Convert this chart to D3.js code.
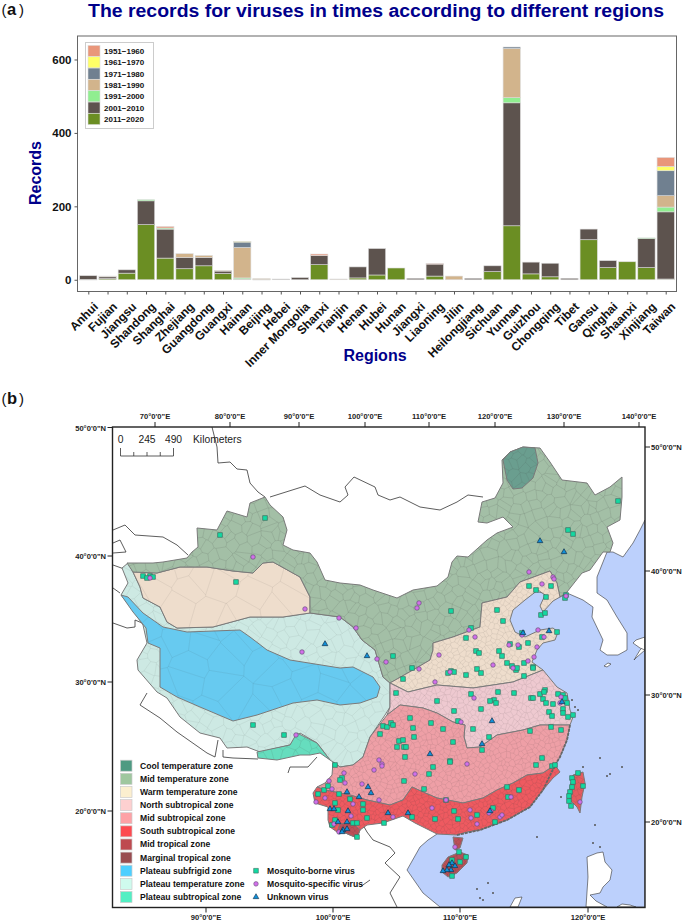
<!DOCTYPE html>
<html><head><meta charset="utf-8">
<script src="https://cdn.jsdelivr.net/npm/d3@7"></script>
<style>html,body{margin:0;background:#fff}svg{display:block}text{font-family:"Liberation Sans",Arial,sans-serif}</style>
</head><body><svg id="c" width="685" height="922"></svg>
<script>
// ---------- panel (a) data ----------
const regions=["Anhui","Fujian","Jiangsu","Shandong","Shanghai","Zhejiang","Guangdong","Guangxi","Hainan","Beijing","Hebei","Inner Mongolia","Shanxi","Tianjin","Henan","Hubei","Hunan","Jiangxi","Liaoning","Jilin","Heilongjiang","Sichuan","Yunnan","Guizhou","Chongqing","Tibet","Gansu","Qinghai","Shaanxi","Xinjiang","Taiwan"];
const periods=["2011–2020","2001–2010","1991–2000","1981–1990","1971–1980","1961–1970","1951–1960"];
const periodColors=["#6B8E23","#5D534E","#90EE90","#D2B48C","#708090","#FFFF66","#E9967A"];
const v2011=[1,3,18,150,59,30,38,17,2,1,0,0,41,0,5,13,32,0,10,0,0,22,147,16,8,0,109,33,49,33,2];
const v2001=[10,5,9,65,79,31,23,7,0,0,2,6,25,0,30,72,0,4,33,0,4,16,335,32,37,4,29,19,0,80,183];
const v1991=[0,0,0,3,3,0,0,0,3,0,0,0,0,0,0,0,0,0,0,0,0,0,14,0,0,0,0,0,0,1,13];
const v1981=[0,2,0,0,0,10,5,1,83,2,0,0,0,2,0,0,0,0,0,10,0,0,134,0,0,0,0,0,0,0,31];
const v1971=[0,0,0,0,0,0,0,0,15,0,0,0,0,0,0,0,0,0,0,0,0,0,4,0,0,0,0,0,0,0,68];
const v1961=[0,0,0,0,0,0,0,0,1,0,0,0,0,0,0,0,0,0,0,0,0,0,0,0,0,0,0,0,0,0,12];
const v1951=[0,0,0,0,4,0,0,0,0,0,0,0,4,0,0,0,0,0,1,0,0,0,0,0,0,0,0,0,0,0,24];
const seriesValues=[v2011,v2001,v1991,v1981,v1971,v1961,v1951];
const yTicks=[0,200,400,600];

// ---------- panel (b) data: outlines and sites, in map-grid units ----------
const lonTopTicks=[70,80,90,100,110,120,130,140], lonTopAt=[155,230,299,365,429,495,564,639];
const lonBottomTicks=[90,100,110,120], lonBottomAt=[206,333,460,588];
const latLeftTicks=[50,40,30,20], latLeftAt=[427.5,556,682,811];
const latRightTicks=[50,40,30,20], latRightAt=[447,571,695,822];
const zoneNames=["Cool temperature zone","Mid temperature zone","Warm temperature zone","North subtropical zone","Mid subtropical zone","South subtropical zone","Mid tropical zone","Marginal tropical zone","Plateau subfrigid zone","Plateau temperature zone","Plateau subtropical zone"];
const zoneLegendColors=["#4E9A82","#9FC79F","#FCEFCF","#FDD0D0","#FDA2A6","#FD4A50","#BE4A50","#994C50","#4DCFFF","#CFFBEE","#52EFC3"];
const virusNames=["Mosquito-borne virus","Mosquito-specific virus","Unknown virus"];

const seaArea=[[560,597],[567,593],[583,600],[593,607],[592,617],[603,640],[600,650],[607,655],[618,655],[627,650],[627,633],[617,617],[607,600],[597,593],[597,577],[607,552],[613,552],[623,557],[633,543],[640,530],[645,520],[645,907],[440,907],[423,893],[407,870],[420,847],[428,840],[437,834],[470,780],[500,700],[495,640],[495,610],[530,590]];
const luzon=[[587,857],[597,853],[603,852],[605,862],[612,870],[610,880],[603,887],[600,893],[590,895],[596,901],[607,907],[586,907],[588,877]];
const luzonSouth=[[617,907],[622,904],[630,905],[636,907]];
const palawan=[[510,907],[515,898],[522,897],[518,907]];
const kyushu=[[645,650],[637,657],[634,660],[640,650],[645,645]];
const jeju=[[604,666],[608,663],[611,664],[607,667]];
const honshuBit=[[633,643],[636,640],[645,637],[645,650],[640,648]];

const midTemp=[[127,563],[153,563],[163,562],[187,558],[192,552],[198,547],[197,528],[217,530],[227,511],[247,517],[250,503],[265,497],[270,505],[283,517],[287,530],[283,545],[293,550],[310,553],[317,562],[325,580],[340,583],[360,585],[373,590],[397,598],[413,590],[437,586],[448,577],[452,562],[457,556],[468,557],[487,540],[497,533],[513,527],[503,517],[487,523],[478,522],[482,502],[495,498],[503,483],[502,460],[510,452],[523,447],[540,448],[550,462],[562,480],[587,483],[595,495],[610,487],[622,477],[622,497],[620,520],[607,527],[613,543],[610,552],[603,552],[590,570],[582,573],[567,592],[560,597],[557,583],[550,571],[520,582],[507,597],[482,603],[480,627],[453,637],[433,643],[433,650],[430,660],[413,670],[390,683],[383,677],[375,650],[362,640],[353,627],[340,617],[310,613],[310,597],[300,577],[273,562],[263,563],[253,573],[233,571],[207,567],[180,567],[157,573],[133,572]];
const coolTemp=[[503,460],[510,452],[523,447],[535,448],[538,463],[533,478],[522,488],[513,489],[507,480],[505,470]];
const warmWest=[[133,572],[157,573],[180,567],[207,567],[233,571],[253,573],[263,563],[273,562],[300,577],[310,597],[310,613],[283,617],[250,617],[213,627],[177,628],[167,622],[160,607],[143,598],[140,587]];
const warmEast=[[433,643],[453,637],[480,627],[482,603],[507,597],[520,582],[550,571],[557,583],[560,597],[553,601],[543,612],[540,606],[545,595],[538,590],[525,600],[513,610],[510,620],[515,632],[525,637],[540,630],[553,628],[558,632],[555,640],[543,643],[537,650],[532,662],[543,670],[513,682],[473,688],[437,685],[408,692],[390,683],[413,670],[430,660],[433,650]];
const plateauTemp=[[122,568],[128,563],[133,572],[140,587],[143,598],[160,607],[167,622],[177,628],[213,627],[250,617],[283,617],[310,613],[340,617],[353,627],[362,640],[375,650],[383,677],[390,683],[390,707],[385,715],[370,737],[363,757],[353,765],[340,767],[333,762],[330,760],[317,743],[300,733],[290,745],[260,752],[247,747],[227,748],[220,738],[200,733],[180,717],[167,698],[157,692],[138,670],[137,660],[147,643],[143,625],[133,610],[121,595],[128,583]];
const plateauSub=[[121,595],[128,597],[143,613],[163,627],[187,632],[240,630],[250,637],[267,650],[290,660],[340,668],[353,667],[373,677],[380,687],[377,697],[360,703],[340,705],[317,700],[293,703],[257,715],[233,721],[200,707],[177,697],[160,687],[160,648],[148,643],[146,628],[133,612]];
const plateauSubtrop=[[257,752],[290,745],[297,733],[317,743],[330,760],[320,753],[310,755],[300,755],[277,760],[258,758]];
const northSub=[[390,683],[408,692],[437,685],[473,688],[513,682],[543,670],[557,687],[567,693],[570,710],[573,717],[570,725],[540,725],[523,730],[497,735],[480,747],[467,748],[464,737],[465,725],[453,722],[437,713],[423,708],[400,705],[387,715],[390,707]];
const midSub=[[387,715],[400,705],[423,708],[437,713],[453,722],[465,725],[464,737],[467,748],[480,747],[497,735],[523,730],[540,725],[570,725],[567,740],[560,757],[555,765],[543,773],[527,775],[513,783],[497,790],[483,798],[463,803],[437,798],[423,792],[412,787],[403,800],[390,805],[367,800],[350,795],[340,793],[325,790],[317,787],[325,783],[332,775],[333,762],[340,767],[353,765],[363,757],[370,737]];
const southSub=[[317,787],[313,793],[315,803],[328,807],[328,820],[330,827],[337,832],[343,832],[357,838],[360,830],[367,825],[383,823],[403,816],[415,823],[437,834],[457,835],[467,832],[480,830],[507,820],[530,807],[543,790],[553,778],[560,772],[555,765],[543,773],[527,775],[513,783],[497,790],[483,798],[463,803],[437,798],[423,792],[412,787],[403,800],[390,805],[367,800],[350,795],[340,793],[325,790]];
const yunnanTropic=[[337,832],[343,832],[357,838],[360,830],[352,822],[340,824]];
const leizhou=[[453,837],[463,838],[460,848],[455,850]];
const hainan=[[442,865],[448,857],[460,852],[468,855],[467,863],[457,873],[448,877],[442,872]];
const taiwan=[[573,775],[583,772],[585,783],[582,797],[580,813],[577,807],[570,800],[570,787]];

const borderLines=[
 [[212,427],[217,447],[218,463],[230,462],[237,469],[247,470],[250,483],[258,492],[265,497]],
 [[270,497],[305,486],[320,495],[340,502],[348,495],[345,487],[354,477],[375,487],[378,495],[390,500],[400,497],[420,507],[440,510],[457,502],[468,495],[483,497]],
 [[113,530],[125,525],[135,535],[163,537],[177,545],[188,555]],
 [[113,543],[120,540],[126,552],[113,553]],[[113,565],[127,570]],[[113,588],[120,593]],
 [[113,623],[127,628],[135,627],[135,620],[147,625]],
 [[147,693],[140,705],[160,718],[177,732],[207,753],[215,757],[218,740]],
 [[223,750],[223,757],[233,758],[258,759]],
 [[317,757],[308,767],[290,767],[288,773]],
 [[363,825],[367,832],[373,840],[390,847],[395,853],[385,863],[400,877],[390,893],[397,907]],
 [[370,880],[360,887]]
];
const coastDark=[[570,725],[567,740],[560,757],[555,765],[543,790],[530,807],[507,820],[480,830],[457,835]];
const islands=[[561,797],[537,837],[622,767],[607,776],[610,774],[600,758],[595,825],[593,843],[600,847],[477,889],[480,898],[483,900],[493,893],[488,883],[575,707],[578,710],[572,700],[583,767]];

const moBorne=[[265,518],[220,535],[143,576],[150,576],[147,578],[153,577],[236,582],[618,501],[568,530],[573,534],[451,611],[529,586],[536,590],[551,586],[546,597],[566,595],[565,598],[497,610],[503,621],[541,615],[545,613],[471,628],[466,638],[522,633],[557,632],[542,637],[510,644],[528,643],[519,647],
[393,656],[412,668],[403,679],[396,693],[437,701],[476,651],[479,653],[499,651],[502,656],[507,663],[512,666],[516,670],[517,668],[524,663],[533,667],[533,668],[524,676],[448,673],[451,671],[454,672],[466,675],[477,669],[481,673],
[471,694],[498,692],[514,693],[494,700],[496,703],[490,701],[531,698],[533,698],[540,694],[545,690],[544,692],[543,699],[546,703],[553,704],[558,694],[563,695],[565,698],[567,703],[563,709],[549,712],[552,716],[563,713],[568,717],[573,715],[481,709],[454,711],
[410,718],[431,723],[413,728],[443,729],[458,721],[473,729],[489,737],[482,750],[530,731],[551,727],[561,730],[383,726],[387,727],[391,723],[393,725],[380,734],[399,741],[403,740],[397,747],[404,747],[406,747],[414,737],[453,742],[405,757],[433,767],[429,774],[450,761],[450,762],[404,781],[542,758],[536,765],[552,766],[555,765],[507,787],[519,790],[424,789],[508,797],
[342,778],[350,799],[363,804],[363,810],[367,818],[353,823],[357,823],[384,823],[412,817],[435,819],[454,811],[458,819],[477,815],[495,822],[493,808],[446,800],[357,837],
[459,852],[466,857],[460,862],[452,860],[452,876],[578,773],[583,786],[572,778],[572,787],[570,792],[569,796],[569,801],[571,806],[573,782],
[253,725],[284,735],[335,765],[324,790],[328,786],[318,794],[339,794],[335,803],[338,810],[335,820],[332,825],[340,780]];
const moSpecific=[[253,557],[150,578],[305,609],[339,618],[529,572],[542,584],[553,577],[554,579],[566,596],[419,603],[417,608],[356,628],[469,630],[475,637],[538,630],[544,637],[509,645],[518,645],[537,647],[522,635],
[377,659],[386,662],[419,669],[439,655],[435,682],[450,672],[493,665],[513,668],[528,661],[534,657],[474,698],[561,697],[560,703],
[461,722],[379,760],[382,764],[382,766],[374,770],[467,764],[415,774],[344,773],[345,783],[362,784],[379,800],[446,800],[511,797],
[353,804],[351,816],[393,817],[432,808],[470,810],[471,818],[477,824],[491,811],[489,813],[500,817],[502,815],[455,847],[580,802],
[302,652],[296,735],[329,781],[332,789],[325,798],[316,802],[334,824],[339,832]];
const unknownVirus=[[325,644],[540,541],[564,552],[523,633],[549,631],[367,656],[562,702],[492,721],[482,744],[430,754],[368,787],[371,793],[347,792],[359,797],[348,811],[347,822],[388,813],[408,813],[343,830],[347,829],[342,832],[490,811],[452,863],[449,865],[455,866],[451,870],[447,870],[443,871],[330,809],[334,809],[338,822]];

// ---------- drawing ----------
const svg=d3.select("#c");
const navy="#00008B";
// panel letters
function panelLabel(txt,y){
  svg.append("text").attr("x",1.5).attr("y",y).attr("font-size",15).attr("fill","#111").text("(");
  svg.append("text").attr("x",7).attr("y",y).attr("font-size",16.5).attr("font-weight","bold").attr("fill","#111").text(txt);
  svg.append("text").attr("x",19).attr("y",y).attr("font-size",15).attr("fill","#111").text(")");
}
panelLabel("a",15); panelLabel("b",404);
svg.append("text").attr("x",88).attr("y",16.5).attr("font-size",18).attr("font-weight","bold").attr("fill",navy).attr("textLength",576).attr("lengthAdjust","spacingAndGlyphs").text("The records for viruses in times according to different regions");

// Panel a
const fa={l:77.5,t:36,r:676.5,b:291.5};
const x=d3.scalePoint().domain(regions).range([88.3,665.7]);
const y=d3.scaleLinear().domain([-32,664]).range([fa.b,fa.t]);
const stacked=d3.stack().keys(d3.range(periods.length)).value((d,k)=>seriesValues[k][d])(d3.range(regions.length));
const bw=17.3;
stacked.forEach((layer,k)=>{
  svg.append("g").selectAll("rect").data(layer).join("rect")
    .filter(d=>d[1]>d[0])
    .attr("x",d=>x(regions[d.data])-bw/2).attr("width",bw)
    .attr("y",d=>y(d[1])).attr("height",d=>Math.max(0.6,y(d[0])-y(d[1])))
    .attr("fill",periodColors[k]).attr("stroke","#ddd").attr("stroke-width",0.6);
});
svg.append("rect").attr("x",fa.l).attr("y",fa.t).attr("width",fa.r-fa.l).attr("height",fa.b-fa.t).attr("fill","none").attr("stroke","#666").attr("stroke-width",1);
const axL=svg.append("g").attr("transform",`translate(${fa.l},0)`).call(d3.axisLeft(y).tickValues(yTicks).tickSize(3).tickPadding(3));
axL.select(".domain").remove();
axL.selectAll("line").attr("stroke","#555");
axL.selectAll("text").attr("font-size",11.5).attr("font-weight","bold").attr("fill","#111").attr("font-family","Liberation Sans");
const axB=svg.append("g").attr("transform",`translate(0,${fa.b})`).call(d3.axisBottom(x).tickSize(3).tickPadding(4));
axB.select(".domain").remove();
axB.selectAll("line").attr("stroke","#555");
axB.selectAll("text").attr("font-size",12).attr("font-weight","bold").attr("fill","#111").attr("font-family","Liberation Sans")
  .attr("text-anchor","end").attr("dy",0).attr("transform","translate(5,11) rotate(-45)");
svg.append("text").attr("transform","translate(41,173) rotate(-90)").attr("text-anchor","middle").attr("font-size",16).attr("font-weight","bold").attr("fill",navy).text("Records");
svg.append("text").attr("x",375).attr("y",361).attr("text-anchor","middle").attr("font-size",16).attr("font-weight","bold").attr("fill",navy).text("Regions");
// legend a
const lgA=svg.append("g");
lgA.append("rect").attr("x",85.5).attr("y",42.5).attr("width",68).attr("height",86).attr("fill","#fff").attr("stroke","#ccc");
const rowA=d3.scalePoint().domain(d3.range(7)).range([51,119]);
d3.range(7).forEach(i=>{const k=6-i;
  lgA.append("rect").attr("x",88).attr("y",rowA(i)-5.6).attr("width",12).attr("height",11.2).attr("fill",periodColors[k]).attr("stroke","#ddd").attr("stroke-width",.6);
  lgA.append("text").attr("x",104).attr("y",rowA(i)+3).attr("font-size",8).attr("font-weight","bold").attr("fill","#111").text(periods[k].replace("–","−"));
});

// Panel b
const fb={l:112.5,t:427,r:645,b:907.5};
const mapX=d3.scaleLinear().domain([112.5,645]).range([fb.l,fb.r]);
const mapY=d3.scaleLinear().domain([427,907.5]).range([fb.t,fb.b]);
const ln=d3.line().x(d=>mapX(d[0])).y(d=>mapY(d[1]));
const closed=p=>ln(p)+"Z";
const defs=svg.append("defs");
defs.append("clipPath").attr("id","frameClip").append("rect").attr("x",fb.l).attr("y",fb.t).attr("width",fb.r-fb.l).attr("height",fb.b-fb.t);
const m=svg.append("g").attr("clip-path","url(#frameClip)");
m.append("path").attr("d",closed(seaArea)).attr("fill","#BCD0FC");
[luzon,luzonSouth,palawan,kyushu,jeju,honshuBit].forEach(p=>m.append("path").attr("d",closed(p)).attr("fill","#fff").attr("stroke","#333").attr("stroke-width",.6));
m.append("path").attr("d",closed(seaArea)).attr("fill","none").attr("stroke","#333").attr("stroke-width",.6);
borderLines.forEach(p=>m.append("path").attr("d",ln(p)).attr("fill","none").attr("stroke","#333").attr("stroke-width",.8));

// county-style mesh: a Voronoi tessellation over a Halton lattice, clipped to each zone
function halton(i,b){let f=1,r=0;while(i>0){f/=b;r+=f*(i%b);i=Math.floor(i/b);}return r;}
let zid=0;
function zone(poly,fill,cell,meshOpacity=.28){
  const id="z"+(zid++);
  defs.append("clipPath").attr("id",id).append("path").attr("d",closed(poly));
  m.append("path").attr("d",closed(poly)).attr("fill",fill);
  const xs=poly.map(d=>d[0]),ys=poly.map(d=>d[1]);
  const x0=d3.min(xs),x1=d3.max(xs),y0=d3.min(ys),y1=d3.max(ys);
  const n=Math.ceil((x1-x0)*(y1-y0)/(cell*cell));
  const pts=d3.range(1,n+1).map(i=>[mapX(x0+(x1-x0)*halton(i,2)),mapY(y0+(y1-y0)*halton(i,3))]);
  if(pts.length>3){
    const vor=d3.Delaunay.from(pts).voronoi([mapX(x0)-1,mapY(y0)-1,mapX(x1)+1,mapY(y1)+1]);
    m.append("path").attr("clip-path",`url(#${id})`).attr("d",vor.render()).attr("fill","none").attr("stroke",`rgba(70,70,70,${meshOpacity})`).attr("stroke-width",.4);
  }
  m.append("path").attr("d",closed(poly)).attr("fill","none").attr("stroke","#7a7a7a").attr("stroke-width",1);
}
zone(plateauTemp,"#CDE9E3",11,.18);
zone(plateauSub,"#67CAF0",26,.2);
zone(warmWest,"#EEDDCC",26,.2);
zone(midTemp,"#A3BFA6",10,.32);
zone(coolTemp,"#6A9E8F",9);
zone(plateauSubtrop,"#66DDBE",10);
zone(warmEast,"#EEDDCC",5,.2);
zone(northSub,"#EEC9D0",5,.2);
zone(midSub,"#EE9FA6",5,.22);
zone(southSub,"#EE5A60",4.5,.28);
zone(yunnanTropic,"#BC5058",4);
zone(leizhou,"#BC5058",4);
zone(hainan,"#BC5058",4,.4);
zone(taiwan,"#E45B60",5);
m.append("path").attr("d",ln(coastDark)).attr("fill","none").attr("stroke","#666").attr("stroke-width",1.8).attr("stroke-dasharray","3 1");
m.selectAll(".isl").data(islands).join("circle").attr("class","isl").attr("cx",d=>mapX(d[0])).attr("cy",d=>mapY(d[1])).attr("r",1).attr("fill","#555");

// sites
const sq=d3.symbol().type(d3.symbolSquare).size(22)(), ci=d3.symbol().type(d3.symbolCircle).size(16)(), tr=d3.symbol().type(d3.symbolTriangle).size(14)();
function sites(arr,path,fill,stroke){
  m.append("g").selectAll("path").data(arr).join("path").attr("d",path)
   .attr("transform",d=>`translate(${mapX(d[0])},${mapY(d[1])})`).attr("fill",fill).attr("stroke",stroke).attr("stroke-width",.7);
}
sites(moBorne,sq,"#12D9A2","#3f6f62");
sites(moSpecific,ci,"#D26FEA","#665577");
sites(unknownVirus,tr,"#108FD8","#12304a");

// map frame and graticule ticks
svg.append("rect").attr("x",fb.l).attr("y",fb.t).attr("width",fb.r-fb.l).attr("height",fb.b-fb.t).attr("fill","none").attr("stroke","#222").attr("stroke-width",1.4);
const tickFont=sel=>sel.attr("font-size",7.6).attr("font-weight","bold").attr("fill","#222");
const lonTop=d3.scaleOrdinal().domain(lonTopTicks).range(lonTopAt), lonBot=d3.scaleOrdinal().domain(lonBottomTicks).range(lonBottomAt);
const latL=d3.scaleOrdinal().domain(latLeftTicks).range(latLeftAt), latR=d3.scaleOrdinal().domain(latRightTicks).range(latRightAt);
lonTopTicks.forEach(d=>{const X=lonTop(d);
  svg.append("line").attr("x1",X).attr("x2",X).attr("y1",fb.t-5).attr("y2",fb.t).attr("stroke","#222");
  tickFont(svg.append("text").attr("x",X).attr("y",419).attr("text-anchor","middle")).text(`${d}°0'0"E`);});
lonBottomTicks.forEach(d=>{const X=lonBot(d);
  svg.append("line").attr("x1",X).attr("x2",X).attr("y1",fb.b).attr("y2",fb.b+5).attr("stroke","#222");
  tickFont(svg.append("text").attr("x",X).attr("y",920).attr("text-anchor","middle")).text(`${d}°0'0"E`);});
latLeftTicks.forEach(d=>{const Y=latL(d);
  svg.append("line").attr("x1",fb.l-5).attr("x2",fb.l).attr("y1",Y).attr("y2",Y).attr("stroke","#222");
  tickFont(svg.append("text").attr("x",106).attr("y",Y+3).attr("text-anchor","end")).text(`${d}°0'0"N`);});
latRightTicks.forEach(d=>{const Y=latR(d);
  svg.append("line").attr("x1",fb.r).attr("x2",fb.r+5).attr("y1",Y).attr("y2",Y).attr("stroke","#222");
  tickFont(svg.append("text").attr("x",651).attr("y",Y+3)).text(`${d}°0'0"N`);});

// scale bar
const kmScale=d3.scaleLinear().domain([0,490]).range([120.5,173.5]);
[0,245,490].forEach(d=>svg.append("text").attr("x",kmScale(d)).attr("y",443).attr("text-anchor","middle").attr("font-size",10.3).attr("fill","#222").text(d));
svg.append("text").attr("x",193).attr("y",443).attr("font-size",10.3).attr("fill","#222").text("Kilometers");
svg.append("line").attr("x1",kmScale(0)).attr("x2",kmScale(490)).attr("y1",456).attr("y2",456).attr("stroke","#333").attr("stroke-width",.8);
d3.range(0,491,122.5).forEach((d,i)=>svg.append("line").attr("x1",kmScale(d)).attr("x2",kmScale(d)).attr("y1",i%4==0?448:452).attr("y2",456).attr("stroke","#333").attr("stroke-width",.8));

// legend b
const rowB=d3.scalePoint().domain(d3.range(11)).range([765.7,897]);
zoneNames.forEach((n,i)=>{
  svg.append("rect").attr("x",120.5).attr("y",rowB(i)-5.5).attr("width",11.5).attr("height",11).attr("fill",zoneLegendColors[i]).attr("stroke","#ccc").attr("stroke-width",.7);
  svg.append("text").attr("x",140).attr("y",rowB(i)+3).attr("font-size",8.6).attr("font-weight","bold").attr("fill","#111").text(n);
});
const vp=[sq,ci,tr], vf=["#12D9A2","#D26FEA","#108FD8"], vs=["#3f6f62","#665577","#12304a"];
virusNames.forEach((n,i)=>{
  svg.append("path").attr("d",vp[i]).attr("transform",`translate(256,${rowB(8+i)})`).attr("fill",vf[i]).attr("stroke",vs[i]).attr("stroke-width",.6);
  svg.append("text").attr("x",267).attr("y",rowB(8+i)+3).attr("font-size",8.6).attr("font-weight","bold").attr("fill","#111").text(n);
});
</script></body></html>
